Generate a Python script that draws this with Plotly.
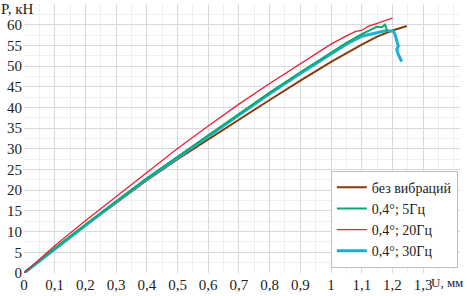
import plotly.graph_objects as go

# Data
u_base = [0, 0.1, 0.2, 0.3, 0.4, 0.5, 0.6, 0.7, 0.8, 0.9, 1.0, 1.1, 1.15, 1.2, 1.247]
p_base = [0, 5.9, 11.5, 17.0, 22.4, 27.5, 32.3, 37.2, 41.8, 46.5, 51.0, 55.2, 57.1, 58.6, 59.7]

u_5 = [0, 0.1, 0.2, 0.3, 0.4, 0.5, 0.6, 0.7, 0.8, 0.9, 1.0, 1.05, 1.1, 1.127, 1.149, 1.165, 1.176, 1.183]
p_5 = [0, 6.0, 11.7, 17.4, 22.9, 28.1, 33.3, 38.5, 43.6, 48.5, 53.3, 55.6, 57.7, 58.8, 59.5, 59.4, 60.0, 58.4]

u_20 = [0, 0.05, 0.1, 0.2, 0.3, 0.4, 0.5, 0.6, 0.7, 0.8, 0.9, 1.0, 1.05, 1.08, 1.1, 1.12, 1.15, 1.2]
p_20 = [0, 3.4, 6.6, 12.6, 18.5, 24.4, 30.1, 35.5, 40.8, 45.8, 50.6, 55.3, 57.3, 58.4, 58.6, 59.6, 60.3, 61.6]

u_30 = [0, 0.1, 0.2, 0.3, 0.4, 0.5, 0.6, 0.7, 0.8, 0.9, 1.0, 1.05, 1.1, 1.149, 1.181, 1.204, 1.21, 1.219, 1.214, 1.219, 1.23]
p_30 = [0, 5.8, 11.5, 17.2, 22.7, 27.9, 33.1, 38.2, 43.3, 48.2, 53.0, 55.3, 57.2, 58.0, 58.6, 58.4, 57.2, 54.8, 54.0, 52.8, 51.1]

x_ticks = [0, 0.1, 0.2, 0.3, 0.4, 0.5, 0.6, 0.7, 0.8, 0.9, 1.0, 1.1, 1.2, 1.3]
x_labels = ["0", "0,1", "0,2", "0,3", "0,4", "0,5", "0,6", "0,7", "0,8", "0,9", "1", "1,1", "1,2", "1,3"]
y_ticks = [0, 5, 10, 15, 20, 25, 30, 35, 40, 45, 50, 55, 60]

names = ["без вибраций", "0,4°; 5Гц", "0,4°; 20Гц", "0,4°; 30Гц"]

FONT = "Liberation Serif, Times New Roman, serif"
TXT = dict(family=FONT, size=15, color="#222")
LEG = dict(family=FONT, size=14, color="#222")
UTXT = dict(family=FONT, size=13, color="#222")

fig = go.Figure()
fig.add_trace(go.Scatter(x=u_base, y=p_base, mode="lines", name=names[0],
                         line=dict(color="#843C0C", width=2), legendrank=1))
fig.add_trace(go.Scatter(x=u_30, y=p_30, mode="lines", name=names[3],
                         line=dict(color="#1FB0D0", width=3), legendrank=4))
fig.add_trace(go.Scatter(x=u_5, y=p_5, mode="lines", name=names[1],
                         line=dict(color="#11A86E", width=2), legendrank=2))
fig.add_trace(go.Scatter(x=u_20, y=p_20, mode="lines", name=names[2],
                         line=dict(color="#E8203A", width=1.3), legendrank=3))

fig.update_layout(
    width=467, height=296,
    margin=dict(l=24, r=7, t=4, b=23, autoexpand=False),
    paper_bgcolor="white", plot_bgcolor="white",
    font=TXT,
    showlegend=True,
    legend=dict(x=0.995, y=0.02, xanchor="right", yanchor="bottom",
                bgcolor="white", bordercolor="#bfbfbf", borderwidth=1,
                font=LEG, itemwidth=30, tracegroupgap=0),
    xaxis=dict(range=[0, 1.42], tickvals=x_ticks, ticktext=x_labels,
               showgrid=True, gridcolor="#d9d9d9", gridwidth=1,
               minor=dict(dtick=0.05, showgrid=True, gridcolor="#efefef"),
               zeroline=False, showline=False, ticks="", automargin=False,
               tickfont=TXT, ticklabelstandoff=1),
    yaxis=dict(range=[0, 65], tickvals=y_ticks,
               showgrid=True, gridcolor="#d9d9d9", gridwidth=1,
               minor=dict(dtick=2.5, showgrid=True, gridcolor="#efefef"),
               zeroline=False, showline=False, ticks="", automargin=False,
               tickfont=TXT, ticklabelstandoff=1),
    annotations=[
        dict(text="P, кН", xref="paper", yref="paper", x=-0.057, y=1.017,
             xanchor="left", yanchor="top", showarrow=False, font=TXT),
        dict(text="U, мм", xref="paper", yref="paper", x=0.932, y=-0.037,
             xanchor="left", yanchor="middle", showarrow=False, font=UTXT,
             borderpad=0),
    ],
)

fig.write_html("out.html", config=dict(displayModeBar=False),
               post_script="document.body.style.margin='0';document.body.style.padding='0';")
